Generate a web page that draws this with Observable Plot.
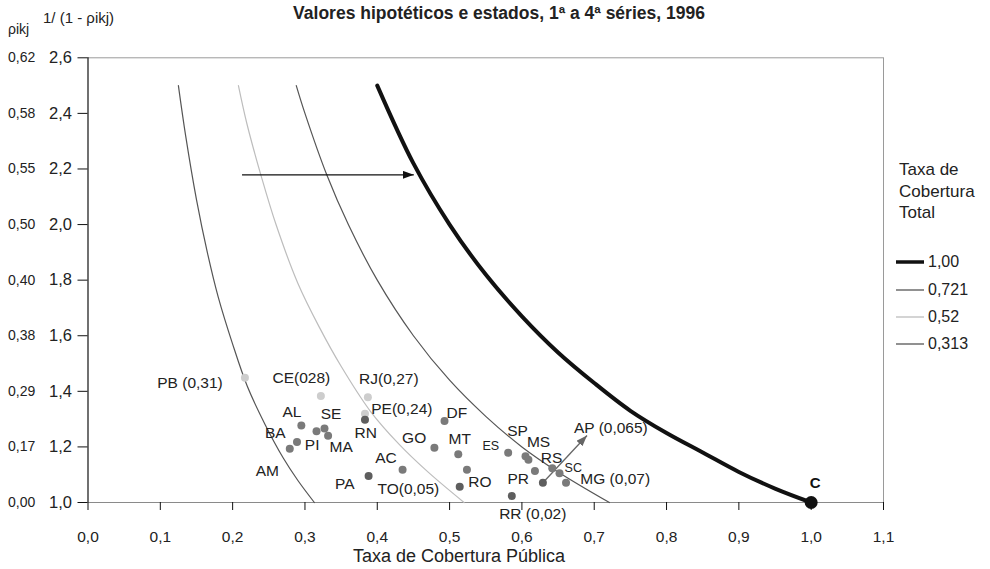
<!DOCTYPE html>
<html>
<head>
<meta charset="utf-8">
<script src="https://cdn.jsdelivr.net/npm/d3@7"></script>
<script src="https://cdn.jsdelivr.net/npm/@observablehq/plot@0.6"></script>
<style>
  body { margin: 0; background: #fff; font-family: "Liberation Sans", Arial, sans-serif; color: #222; }
  #chart { position: relative; width: 990px; height: 569px; overflow: hidden; }
  #chart > svg { position: absolute; left: 0; top: 0; }
  .t { position: absolute; white-space: nowrap; }
  .legend-row { position: absolute; left: 896px; height: 20px; display: flex; align-items: center; font-size: 16px; white-space: nowrap; }
  .legend-row svg { display: block; margin-right: 4px; }
</style>
</head>
<body>
<div id="chart"></div>
<script>
// State codes and the text printed next to each point
const codes = ["PB","CE","RJ","PE","RN","AL","SE","PI","MA","BA","AM","AC","PA","DF","GO","MT","TO","RO","ES","SP","MS","PR","AP","RS","SC","MG","RR"];
const labelText = ["PB (0,31)","CE(028)","RJ(0,27)","PE(0,24)","RN","AL","SE","PI","MA","BA","AM","AC","PA","DF","GO","MT","TO(0,05)","RO","ES","SP","MS","PR","AP (0,065)","RS","SC","MG (0,07)","RR (0,02)"];

// Public coverage rate (x) and 1/(1 - rho_ikj) (y) per state
const publicRate = [0.217,0.322,0.387,0.383,0.383,0.295,0.327,0.316,0.332,0.289,0.279,0.435,0.388,0.493,0.479,0.512,0.524,0.514,0.581,0.605,0.609,0.618,0.629,0.642,0.652,0.661,0.586];
const invOneMinusRho = [1.449,1.383,1.379,1.319,1.298,1.277,1.266,1.256,1.240,1.218,1.193,1.118,1.095,1.293,1.197,1.174,1.118,1.057,1.179,1.166,1.154,1.113,1.071,1.123,1.105,1.071,1.023];

// Where each state's text sits, in chart units
const labelX = [0.141,0.295,0.416,0.434,0.384,0.282,0.336,0.310,0.350,0.259,0.248,0.412,0.355,0.510,0.451,0.514,0.443,0.542,0.557,0.594,0.623,0.595,0.723,0.641,0.671,0.729,0.615];
const labelY = [1.429,1.449,1.445,1.337,1.249,1.325,1.317,1.205,1.199,1.249,1.115,1.161,1.067,1.323,1.233,1.229,1.049,1.073,1.205,1.256,1.217,1.085,1.267,1.161,1.125,1.085,0.957];

// Iso-coverage curves (total coverage rate), points along each curve
const coverageLevels = ["1,00", "0,721", "0,52", "0,313"];
const curve100X = [0.40,0.45,0.50,0.55,0.60,0.65,0.70,0.75,0.80,0.85,0.90,0.95,1.00];
const curve100Y = [2.50,2.22,2.00,1.82,1.67,1.54,1.43,1.33,1.25,1.18,1.11,1.05,1.00];
const curve721X = [0.288,0.30,0.33,0.36,0.40,0.45,0.50,0.55,0.60,0.65,0.721];
const curve721Y = [2.50,2.40,2.18,2.00,1.80,1.60,1.44,1.31,1.20,1.11,1.00];
const curve52X  = [0.208,0.22,0.24,0.26,0.29,0.32,0.35,0.39,0.43,0.47,0.52];
const curve52Y  = [2.50,2.36,2.17,2.00,1.79,1.63,1.49,1.33,1.21,1.11,1.00];
const curve313X = [0.125,0.135,0.15,0.165,0.18,0.20,0.22,0.245,0.27,0.29,0.313];
const curve313Y = [2.50,2.32,2.09,1.90,1.74,1.57,1.42,1.28,1.16,1.08,1.00];

// Shift arrow between the curves, and the AP arrow
const shiftFromX = 0.213, shiftToX = 0.4505, shiftY = 2.179;
const apArrowToX = 0.690, apArrowToY = 1.241;

// Full coverage point C
const pointC = {x: 1.0, y: 1.0, label: "C"};

// Axis ticks
const xTicks = [0,0.1,0.2,0.3,0.4,0.5,0.6,0.7,0.8,0.9,1.0,1.1];
const yTicks = [1.0,1.2,1.4,1.6,1.8,2.0,2.2,2.4,2.6];
const rhoLabels = ["0,00","0,17","0,29","0,38","0,40","0,50","0,55","0,58","0,62"];

const states = codes.map((code, i) => ({
  code, label: labelText[i], x: publicRate[i], y: invOneMinusRho[i], lx: labelX[i], ly: labelY[i]
}));
const toPoints = (xs, ys) => xs.map((x, i) => ({x, y: ys[i]}));

const lightStates = new Set(["PB","CE","RJ","PE"]);
const darkStates = new Set(["RN","PA","RO","RR","AP"]);
const dotColor = d => lightStates.has(d.code) ? "#cdcdcd" : darkStates.has(d.code) ? "#5e5e5e" : "#7a7a7a";
const smallLabels = new Set(["ES","SC"]);

const curveStyles = [
  {pts: toPoints(curve100X, curve100Y), stroke: "#111", width: 4},
  {pts: toPoints(curve721X, curve721Y), stroke: "#555", width: 1.2},
  {pts: toPoints(curve52X, curve52Y), stroke: "#bdbdbd", width: 1.2},
  {pts: toPoints(curve313X, curve313Y), stroke: "#555", width: 1.2}
];

const fmt = d => d.toFixed(1).replace(".", ",");
const rhoByTick = new Map(yTicks.map((t, i) => [t, rhoLabels[i]]));
const apState = states.find(d => d.code === "AP");

const chart = Plot.plot({
  width: 990,
  height: 569,
  marginLeft: 87.5,
  marginRight: 107,
  marginTop: 57.3,
  marginBottom: 67,
  x: {domain: [0, 1.1]},
  y: {domain: [1, 2.6]},
  style: {fontFamily: "Liberation Sans, Arial, sans-serif", fontSize: "15px", color: "#222", background: "transparent", overflow: "visible"},
  marks: [
    // plot frame
    Plot.ruleY([2.6], {stroke: "#9a9a9a", strokeWidth: 1}),
    Plot.ruleX([1.1], {stroke: "#9a9a9a", strokeWidth: 1}),
    Plot.ruleY([1], {stroke: "#8a8a8a", strokeWidth: 1.2}),
    Plot.ruleX([0], {stroke: "#111", strokeWidth: 1.2}),
    // axes
    Plot.axisY({ticks: yTicks, tickFormat: fmt, tickSize: 10, tickPadding: 6, fontSize: 16.5, label: null, stroke: "#111"}),
    Plot.axisY({ticks: yTicks, tickFormat: d => rhoByTick.get(d), tickSize: 0, tickPadding: 0, dx: -80, textAnchor: "start", fontSize: 14, label: null}),
    Plot.axisX({ticks: xTicks, tickFormat: fmt, tickSize: 8, tickPadding: 20, fontSize: 15.5, label: null, stroke: "#111"}),
    // iso-coverage curves
    ...curveStyles.map(c => Plot.line(c.pts, {x: "x", y: "y", stroke: c.stroke, strokeWidth: c.width, curve: "catmull-rom"})),
    // arrows (links, arrowheads added below)
    Plot.link([{x1: shiftFromX, x2: shiftToX, y: shiftY}], {x1: "x1", x2: "x2", y1: "y", y2: "y", stroke: "#111", strokeWidth: 1.3}),
    Plot.link([apState], {x1: "x", y1: "y", x2: () => apArrowToX, y2: () => apArrowToY, stroke: "#666", strokeWidth: 1.3}),
    // states
    Plot.dot(states, {x: "x", y: "y", r: 4, fill: dotColor, stroke: "none"}),
    Plot.text(states.filter(d => !smallLabels.has(d.code)), {x: "lx", y: "ly", text: "label", fontSize: 15.5, fill: "#222", textAnchor: "middle", lineAnchor: "middle"}),
    Plot.text(states.filter(d => smallLabels.has(d.code)), {x: "lx", y: "ly", text: "label", fontSize: 12.5, fill: "#222", textAnchor: "middle", lineAnchor: "middle"}),
    // full coverage point
    Plot.dot([pointC], {x: "x", y: "y", r: 6.5, fill: "#111"}),
    Plot.text([pointC], {x: "x", y: "y", text: "label", dx: 4, dy: -19, fontSize: 15, fontWeight: "bold", fill: "#111"})
  ]
});

// filled arrowheads on the two links
const svg = d3.select(chart);
const defs = svg.insert("defs", ":first-child");
[["head-dark", "#111"], ["head-gray", "#666"]].forEach(([id, color]) => {
  defs.append("marker")
    .attr("id", id)
    .attr("viewBox", "0 0 11 8")
    .attr("refX", 11).attr("refY", 4)
    .attr("markerWidth", 11).attr("markerHeight", 8)
    .attr("markerUnits", "userSpaceOnUse")
    .attr("orient", "auto")
    .append("path").attr("d", "M0,0L11,4L0,8Z").attr("fill", color);
});
const linkGroups = svg.selectAll('g[aria-label="link"]').nodes();
const heads = ["url(#head-dark)", "url(#head-gray)"];
linkGroups.forEach((g, i) => {
  d3.select(g).selectAll("path, line").attr("marker-end", heads[i]);
});

const root = document.getElementById("chart");
root.appendChild(chart);

function addText(text, css) {
  const el = document.createElement("div");
  el.className = "t";
  el.textContent = text;
  Object.assign(el.style, css);
  root.appendChild(el);
  return el;
}

addText("Valores hipotéticos e estados, 1ª a 4ª séries, 1996",
  {left: "0px", width: "998px", textAlign: "center", top: "2px", fontSize: "17.5px", fontWeight: "bold", lineHeight: "22px"});
addText("1/ (1 - ρikj)", {left: "43px", top: "9px", fontSize: "15px", lineHeight: "18px"});
addText("ρikj", {left: "8px", top: "20px", fontSize: "14px", lineHeight: "18px"});
addText("Taxa de Cobertura Pública",
  {left: "0px", width: "918px", textAlign: "center", top: "545px", fontSize: "18px", lineHeight: "22px"});

// legend
const legendTitle = addText("", {left: "899px", top: "159px", fontSize: "17px", lineHeight: "21.7px"});
legendTitle.innerHTML = "Taxa de<br>Cobertura<br>Total";
const legendTops = [252, 280, 307, 334];
coverageLevels.forEach((lab, i) => {
  const row = document.createElement("div");
  row.className = "legend-row";
  row.style.top = legendTops[i] + "px";
  const c = curveStyles[i];
  row.innerHTML = `<svg width="28" height="10"><line x1="0" x2="28" y1="5" y2="5" stroke="${c.stroke}" stroke-width="${c.width === 4 ? 3.5 : 1.3}"/></svg><span>${lab}</span>`;
  root.appendChild(row);
});
</script>
</body>
</html>
